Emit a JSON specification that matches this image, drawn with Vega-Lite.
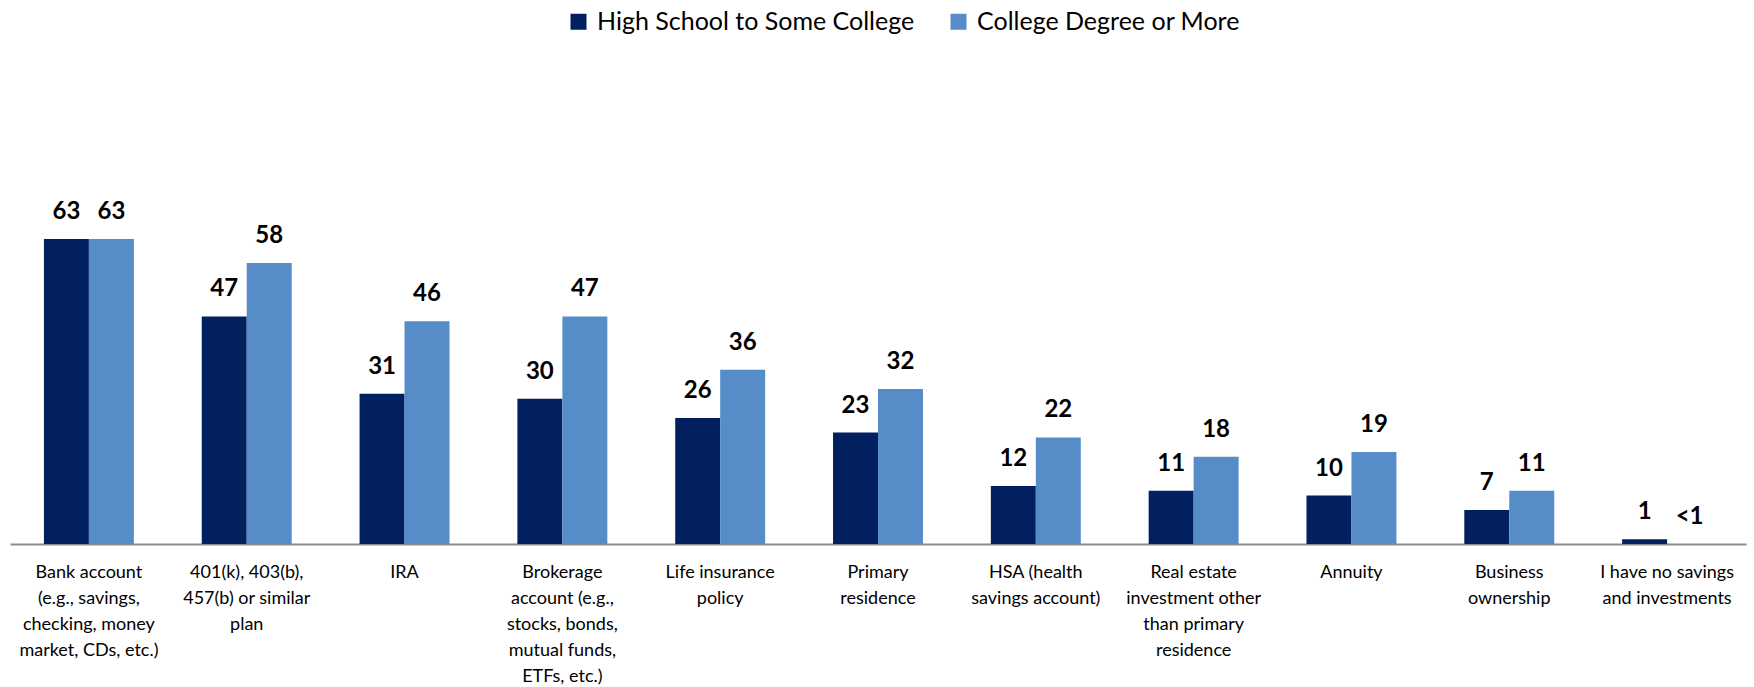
{
  "$schema": "https://vega.github.io/schema/vega-lite/v6.json",
  "width": 1736,
  "height": 339,
  "autosize": {"type": "none"},
  "padding": {"left": 10, "top": 205, "right": 8, "bottom": 143},
  "background": "white",
  "config": {"view": {"stroke": null}, "font": "Lato"},
  "data": {
    "values": [
      {"category": "Bank account|(e.g., savings,|checking, money|market, CDs, etc.)", "group": "High School to Some College", "value": 63, "label": "63"},
      {"category": "Bank account|(e.g., savings,|checking, money|market, CDs, etc.)", "group": "College Degree or More", "value": 63, "label": "63"},
      {"category": "401(k), 403(b),|457(b) or similar|plan", "group": "High School to Some College", "value": 47, "label": "47"},
      {"category": "401(k), 403(b),|457(b) or similar|plan", "group": "College Degree or More", "value": 58, "label": "58"},
      {"category": "IRA", "group": "High School to Some College", "value": 31, "label": "31"},
      {"category": "IRA", "group": "College Degree or More", "value": 46, "label": "46"},
      {"category": "Brokerage|account (e.g.,|stocks, bonds,|mutual funds,|ETFs, etc.)", "group": "High School to Some College", "value": 30, "label": "30"},
      {"category": "Brokerage|account (e.g.,|stocks, bonds,|mutual funds,|ETFs, etc.)", "group": "College Degree or More", "value": 47, "label": "47"},
      {"category": "Life insurance|policy", "group": "High School to Some College", "value": 26, "label": "26"},
      {"category": "Life insurance|policy", "group": "College Degree or More", "value": 36, "label": "36"},
      {"category": "Primary|residence", "group": "High School to Some College", "value": 23, "label": "23"},
      {"category": "Primary|residence", "group": "College Degree or More", "value": 32, "label": "32"},
      {"category": "HSA (health|savings account)", "group": "High School to Some College", "value": 12, "label": "12"},
      {"category": "HSA (health|savings account)", "group": "College Degree or More", "value": 22, "label": "22"},
      {"category": "Real estate|investment other|than primary|residence", "group": "High School to Some College", "value": 11, "label": "11"},
      {"category": "Real estate|investment other|than primary|residence", "group": "College Degree or More", "value": 18, "label": "18"},
      {"category": "Annuity", "group": "High School to Some College", "value": 10, "label": "10"},
      {"category": "Annuity", "group": "College Degree or More", "value": 19, "label": "19"},
      {"category": "Business|ownership", "group": "High School to Some College", "value": 7, "label": "7"},
      {"category": "Business|ownership", "group": "College Degree or More", "value": 11, "label": "11"},
      {"category": "I have no savings|and investments", "group": "High School to Some College", "value": 1, "label": "1"},
      {"category": "I have no savings|and investments", "group": "College Degree or More", "value": 0, "label": "<1"}
    ]
  },
  "encoding": {
    "x": {
      "field": "category",
      "type": "nominal",
      "sort": null,
      "scale": {"paddingInner": 0.43, "paddingOuter": 0.215},
      "axis": {
        "title": null,
        "labelAngle": 0,
        "ticks": false,
        "domainColor": "#8c8c8c",
        "domainWidth": 2,
        "labelFontSize": 18,
        "labelColor": "#000000",
        "labelLineHeight": 26,
        "labelPadding": 19,
        "labelLimit": 400,
        "labelExpr": "split(datum.label, '|')"
      }
    },
    "xOffset": {
      "field": "group",
      "type": "nominal",
      "sort": ["High School to Some College", "College Degree or More"],
      "scale": {"paddingInner": 0}
    },
    "y": {
      "field": "value",
      "type": "quantitative",
      "scale": {"domain": [0, 70]},
      "axis": null
    }
  },
  "layer": [
    {
      "mark": {"type": "bar"},
      "encoding": {
        "color": {
          "field": "group",
          "type": "nominal",
          "scale": {
            "domain": ["High School to Some College", "College Degree or More"],
            "range": ["#022060", "#568dc8"]
          },
          "legend": {
            "title": null,
            "orient": "none",
            "legendX": 556,
            "legendY": -196,
            "direction": "horizontal",
            "symbolType": "square",
            "symbolSize": 256,
            "symbolStrokeWidth": 0,
            "labelFontSize": 25,
            "labelColor": "#000000",
            "labelOffset": 6,
            "columnPadding": 31,
            "labelLimit": 500
          }
        }
      }
    },
    {
      "mark": {"type": "text", "dy": -20, "baseline": "alphabetic", "fontWeight": "bold", "fontSize": 24, "color": "#000000"},
      "encoding": {"text": {"field": "label"}}
    }
  ]
}
